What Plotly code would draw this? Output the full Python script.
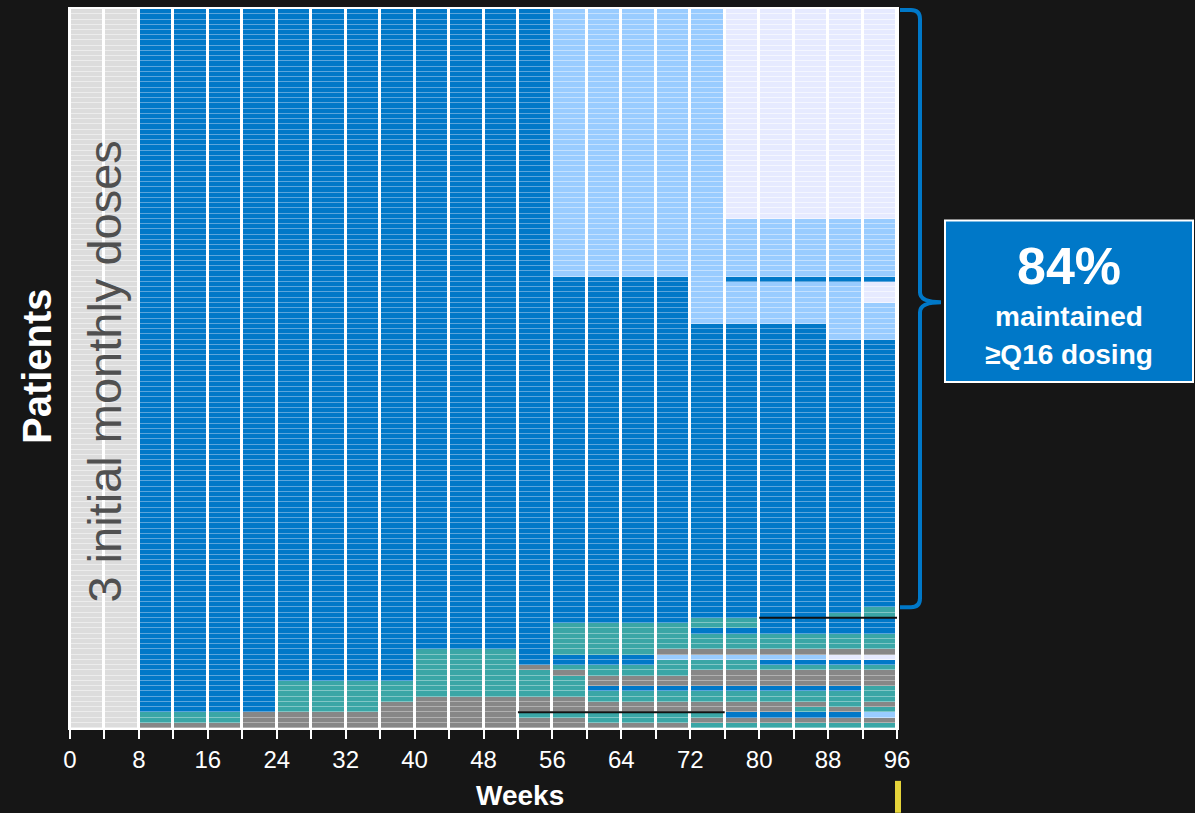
import plotly.graph_objects as go

# ---------------- data ----------------
N_ROWS = 137
WEEK_STARTS = list(range(0, 96, 4))          # 4-week columns
TICK_WEEKS = list(range(0, 97, 4))
TICK_LABELS = [str(w) if w % 8 == 0 else "" for w in TICK_WEEKS]

CATEGORY_CODES = {"L": 0, "B": 1, "LB": 2, "LV": 3, "T": 4, "G": 5}
CATEGORY_NAMES = ["Loading", "Q16", "Q20", "Q24", "Q12", "Q8"]
MAIN_COLORS = ["#dcdcdc", "#0078c8", "#99ccff", "#e6eaff", "#3aa6a6", "#878787"]
STRIPE_COLORS = ["#ececec", "#5aa5dc", "#c4e1ff", "#f4f6ff", "#80c6c6", "#b0b0b0"]

# run-length encoding of each 4-week column, from top patient to bottom
COL_0 = [("L", 137)]
COL_4 = [("L", 137)]
COL_8 = [("B", 134), ("T", 2), ("G", 1)]
COL_12 = [("B", 134), ("T", 2), ("G", 1)]
COL_16 = [("B", 134), ("T", 2), ("G", 1)]
COL_20 = [("B", 134), ("G", 3)]
COL_24 = [("B", 128), ("T", 6), ("G", 3)]
COL_28 = [("B", 128), ("T", 6), ("G", 3)]
COL_32 = [("B", 128), ("T", 6), ("G", 3)]
COL_36 = [("B", 128), ("T", 4), ("G", 5)]
COL_40 = [("B", 122), ("T", 9), ("G", 6)]
COL_44 = [("B", 122), ("T", 9), ("G", 6)]
COL_48 = [("B", 122), ("T", 9), ("G", 6)]
COL_52 = [("B", 125), ("G", 1), ("T", 5), ("G", 3), ("T", 1), ("G", 2)]
COL_56 = [("LB", 51), ("B", 66), ("T", 6), ("B", 2), ("T", 1), ("G", 1), ("T", 4),
          ("G", 3), ("T", 1), ("G", 2)]
COL_60 = [("LB", 51), ("B", 66), ("T", 6), ("B", 2), ("T", 2), ("G", 2), ("B", 1),
          ("T", 2), ("G", 2), ("T", 2), ("G", 1)]
COL_64 = [("LB", 51), ("B", 66), ("T", 6), ("B", 2), ("T", 2), ("G", 2), ("B", 1),
          ("T", 2), ("G", 2), ("T", 2), ("G", 1)]
COL_68 = [("LB", 51), ("B", 66), ("T", 5), ("G", 1), ("LB", 1), ("T", 3), ("G", 2),
          ("B", 1), ("T", 2), ("G", 2), ("T", 2), ("G", 1)]
COL_72 = [("LB", 60), ("B", 56), ("T", 2), ("B", 1), ("T", 3), ("G", 1), ("LB", 1),
          ("T", 2), ("G", 3), ("B", 1), ("T", 2), ("G", 2), ("T", 1), ("G", 1), ("T", 1)]
COL_76 = [("LV", 40), ("LB", 11), ("B", 1), ("LB", 8), ("B", 56), ("T", 2), ("B", 1),
          ("T", 3), ("G", 1), ("LB", 1), ("T", 2), ("G", 3), ("B", 1), ("T", 2), ("G", 2),
          ("B", 1), ("G", 1), ("T", 1)]
COL_80 = [("LV", 40), ("LB", 11), ("B", 1), ("LB", 8), ("B", 59), ("T", 3), ("G", 1),
          ("LB", 1), ("B", 1), ("T", 1), ("G", 3), ("B", 1), ("T", 2), ("G", 2), ("B", 1),
          ("G", 1), ("T", 1)]
COL_84 = [("LV", 40), ("LB", 11), ("B", 1), ("LB", 8), ("B", 59), ("T", 3), ("G", 1),
          ("LB", 1), ("B", 1), ("T", 1), ("G", 3), ("B", 1), ("T", 2), ("G", 1), ("T", 1),
          ("B", 1), ("G", 1), ("T", 1)]
COL_88 = [("LV", 40), ("LB", 11), ("B", 1), ("LB", 11), ("B", 52), ("T", 1), ("B", 3),
          ("T", 3), ("G", 1), ("LV", 1), ("B", 1), ("T", 1), ("G", 3), ("B", 1), ("T", 3),
          ("G", 1), ("B", 1), ("G", 1), ("T", 1)]
COL_92 = [("LV", 40), ("LB", 11), ("B", 1), ("LV", 4), ("LB", 7), ("B", 51), ("T", 2),
          ("B", 3), ("T", 3), ("G", 1), ("LV", 1), ("B", 1), ("T", 1), ("G", 3), ("T", 3),
          ("G", 1), ("T", 1), ("LB", 1), ("G", 1), ("T", 1)]

COLUMNS = [COL_0, COL_4, COL_8, COL_12, COL_16, COL_20, COL_24, COL_28, COL_32, COL_36,
           COL_40, COL_44, COL_48, COL_52, COL_56, COL_60, COL_64, COL_68, COL_72, COL_76,
           COL_80, COL_84, COL_88, COL_92]

# discontinuation markers: (row boundary, start week, end week)
DISCONTINUED = [(134, 52, 76), (116, 80, 96)]
MAINTAINED_PCT = "84%"

# ---------------- build matrix ----------------
def expand(runs):
    out = []
    for code, n in runs:
        out += [CATEGORY_CODES[code]] * n
    out = (out + [out[-1]] * N_ROWS)[:N_ROWS]
    return out

cols = [expand(c) for c in COLUMNS]
z = [[cols[c][r] for c in range(len(cols))] for r in range(N_ROWS)]
x_centers = [w + 2 for w in WEEK_STARTS]
y_centers = [r + 0.5 for r in range(N_ROWS)]

def step_scale(colors):
    n = len(colors)
    sc = []
    for i, c in enumerate(colors):
        sc.append([i / n, c])
        sc.append([(i + 1) / n, c])
    return sc

fig = go.Figure()
fig.add_trace(go.Heatmap(x=x_centers, y=y_centers, z=z, colorscale=step_scale(STRIPE_COLORS),
                         zmin=-0.5, zmax=len(MAIN_COLORS) - 0.5, showscale=False,
                         xgap=3, ygap=0, hoverinfo="skip"))
fig.add_trace(go.Heatmap(x=x_centers, y=y_centers, z=z, colorscale=step_scale(MAIN_COLORS),
                         zmin=-0.5, zmax=len(MAIN_COLORS) - 0.5, showscale=False,
                         xgap=3, ygap=1, hoverinfo="skip"))
for row, w0, w1 in DISCONTINUED:
    fig.add_trace(go.Scatter(x=[w0, w1], y=[row, row], mode="lines",
                             line=dict(color="#111111", width=2), hoverinfo="skip",
                             showlegend=False))

# ---------------- layout ----------------
W, H = 1195, 813
ML, MR, MT, MB = 70, 298, 7, 85
PW, PH = W - ML - MR, H - MT - MB

def px(xp):
    return (xp - ML) / PW

def py(yp):
    return (H - MB - yp) / PH

FONT = "Liberation Sans, Arial, sans-serif"
BLUE = "#0078c8"

fig.update_layout(
    width=W, height=H, autosize=False,
    margin=dict(l=ML, r=MR, t=MT, b=MB),
    paper_bgcolor="#161616", plot_bgcolor="#ffffff",
    showlegend=False,
    font=dict(family=FONT, color="white"),
)
fig.update_xaxes(range=[0, 96], tickmode="array", tickvals=TICK_WEEKS, ticktext=TICK_LABELS,
                 ticks="outside", ticklen=9, tickwidth=2, tickcolor="white",
                 tickfont=dict(size=24, color="white", family=FONT),
                 showgrid=False, zeroline=False, showline=True, linecolor="white",
                 linewidth=2, mirror=True)
fig.update_yaxes(range=[N_ROWS, 0], showticklabels=False, ticks="", showgrid=False,
                 zeroline=False, showline=True, linecolor="white", linewidth=2, mirror=True)

# bracket
pts = [("M", 900, 8), ("L", 911, 8), ("Q", 920, 8, 920, 17), ("L", 920, 291),
       ("Q", 920, 301, 941, 301), ("Q", 920, 301, 920, 311), ("L", 920, 598),
       ("Q", 920, 607, 911, 607), ("L", 900, 607)]
path = ""
for p in pts:
    cmd = p[0]
    coords = p[1:]
    s = " ".join(f"{px(coords[i]):.5f},{py(coords[i+1]):.5f}" for i in range(0, len(coords), 2))
    path += f"{cmd} {s} "
fig.add_shape(type="path", path=path.strip(), xref="paper", yref="paper",
              line=dict(color=BLUE, width=4))

# box
fig.add_shape(type="rect", xref="paper", yref="paper", x0=px(945), x1=px(1193),
              y0=py(381), y1=py(219), fillcolor=BLUE, line=dict(color="white", width=2))
bx = px(1069)
fig.add_annotation(xref="paper", yref="paper", x=bx, y=py(265), text=f"<b>{MAINTAINED_PCT}</b>",
                   showarrow=False, font=dict(size=52, color="white", family=FONT),
                   xanchor="center", yanchor="middle")
fig.add_annotation(xref="paper", yref="paper", x=bx, y=py(315), text="<b>maintained</b>",
                   showarrow=False, font=dict(size=28, color="white", family=FONT),
                   xanchor="center", yanchor="middle")
fig.add_annotation(xref="paper", yref="paper", x=bx, y=py(353), text="<b>≥Q16 dosing</b>",
                   showarrow=False, font=dict(size=28, color="white", family=FONT),
                   xanchor="center", yanchor="middle")

# axis titles
fig.add_annotation(xref="paper", yref="paper", x=px(37), y=py(365), text="<b>Patients</b>",
                   textangle=-90, showarrow=False,
                   font=dict(size=40, color="white", family=FONT),
                   xanchor="center", yanchor="middle")
fig.add_annotation(xref="paper", yref="paper", x=px(520), y=py(796), text="<b>Weeks</b>",
                   showarrow=False, font=dict(size=28, color="white", family=FONT),
                   xanchor="center", yanchor="middle")
# loading label
fig.add_annotation(xref="x", yref="y", x=4, y=69, text="3 initial monthly doses",
                   textangle=-90, showarrow=False,
                   font=dict(size=47, color="#505050", family=FONT),
                   xanchor="center", yanchor="middle")

# yellow marker at week 96
fig.add_shape(type="rect", xref="paper", yref="paper", x0=px(895), x1=px(901),
              y0=py(813), y1=py(781), fillcolor="#e5d43a", line=dict(width=0))

fig.write_html("out.html", config={"displayModeBar": False},
               post_script="document.body.style.margin='0';")
